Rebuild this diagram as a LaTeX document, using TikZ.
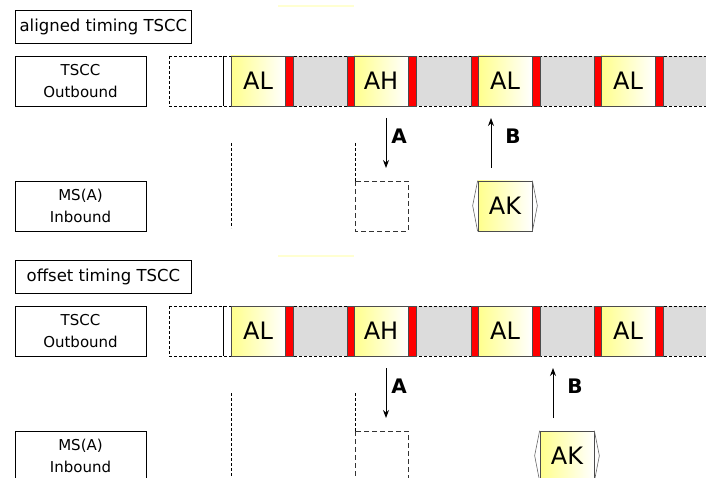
\documentclass[tikz,border=0pt]{standalone}
\usepackage{fontspec}
\setmainfont{DejaVu Sans}
\usetikzlibrary{arrows.meta}
\definecolor{slotyellow}{HTML}{FFFF8C}
\definecolor{gapgray}{HTML}{DCDCDC}
\tikzset{
  titlebox/.style={draw, line width=0.8, anchor=north west, minimum width=176, minimum height=33,
    inner sep=0, font=\fontsize{16.5}{18}\selectfont},
  rolebox/.style={draw, line width=0.8, minimum width=131, minimum height=50, inner sep=0,
    align=center, font=\fontsize{15}{22}\selectfont},
  slotbox/.style={draw=black!70, line width=0.7, left color=slotyellow, right color=white,
    minimum width=54, minimum height=50, inner sep=0, font=\fontsize{24}{26}\selectfont},
  redbar/.style={draw=black!70, line width=0.7, fill=red},
  dashline/.style={line width=0.7, dash pattern=on 3pt off 2pt},
  longdash/.style={black!80, line width=0.7, dash pattern=on 5pt off 3pt},
  msglabel/.style={font=\bfseries\fontsize{20}{22}\selectfont},
}
\begin{document}
\begin{tikzpicture}[x=1pt, y=-1pt, >={Stealth[length=8pt,width=6pt]}]
  \useasboundingbox (0,0) rectangle (706,478);
  \clip (0,0) rectangle (706,478);

  \foreach \s/\oy/\ttl/\bx in {1/0/aligned timing TSCC/478, 2/250/offset timing TSCC/540} {

    % --- 1. タイトルと役割の箱 ---
    \draw[slotyellow!40, line width=1.5] (278,6+\oy) -- (354,6+\oy);
    \node[titlebox] (title\s) at (15,10+\oy) {\ttl};
    \node[rolebox] (out\s) at (80.5,81+\oy) {TSCC\\Outbound};
    \node[rolebox] (ms\s) at (80.5,206+\oy) {MS(A)\\Inbound};

    % --- 2. アウトバウンドの帯 ---
    \fill[gapgray] (231,56+\oy) rectangle (706,106+\oy);
    \draw[dashline] (169,56+\oy) -- (706,56+\oy);
    \draw[dashline] (169,106+\oy) -- (706,106+\oy);
    \draw[dashline] (169,56+\oy) -- (169,106+\oy);
    \draw[line width=0.8] (223,56+\oy) -- (223,106+\oy);

    % --- 3. スロット (AL, AH, AL, AL) ---
    \foreach \i/\xx/\lab in {1/231/AL, 2/354/AH, 3/478/AL, 4/601/AL} {
      \node[slotbox] (slot\s\i) at (\xx+27,81+\oy) {\lab};
      \draw[redbar] (\xx+54,56+\oy) rectangle (\xx+62,106+\oy);
      \ifnum\i>1
        \draw[redbar] (\xx-7,56+\oy) rectangle (\xx,106+\oy);
      \fi
    }

    % --- 4. 点線とインバウンドの空き ---
    \draw[dashline] (231,143+\oy) -- (231,228+\oy);
    \draw[dashline] (355,143+\oy) -- (355,181+\oy);
    \draw[longdash] (355,181+\oy) rectangle (408,231+\oy);

    % --- 5. AK (応答) ---
    \node[slotbox] (ak\s) at (\bx+27,206+\oy) {AK};
    \draw[black!60, line width=0.6] (ak\s.north west) -- ++(-5,25) -- (ak\s.south west);
    \draw[black!60, line width=0.6] (ak\s.north east) -- ++(5,25) -- (ak\s.south east);

    % --- 6. 矢印 A, B ---
    \coordinate (atop\s) at (386,118+\oy);
    \coordinate (abot\s) at (386,168+\oy);
    \draw[->, line width=0.9] (atop\s) -- (abot\s);
    \node[msglabel] (alab\s) at (399,136+\oy) {A};
    \coordinate (bbot\s) at (\bx+13,168+\oy);
    \coordinate (btop\s) at (\bx+13,118+\oy);
    \draw[->, line width=0.9] (bbot\s) -- (btop\s);
    \node[msglabel] (blab\s) at (\bx+35,136+\oy) {B};
  }

\end{tikzpicture}
\end{document}
